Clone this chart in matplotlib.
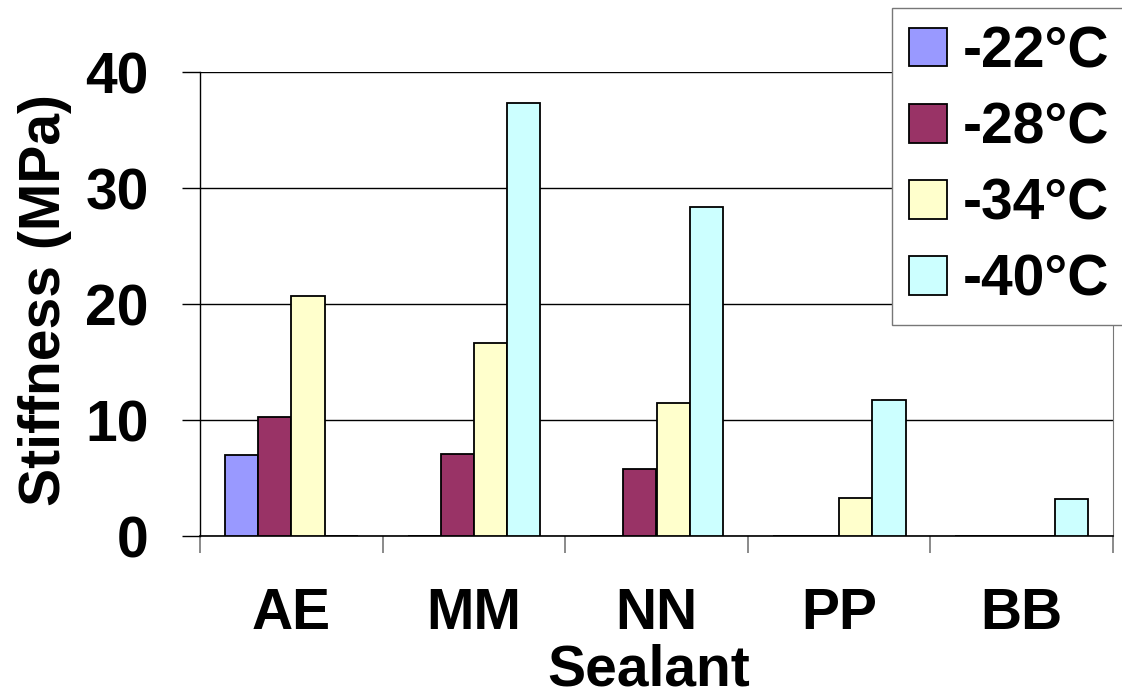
import numpy as np
import matplotlib
matplotlib.use('Agg')
import matplotlib.pyplot as plt

plt.rcParams['font.family'] = ['Liberation Sans', 'DejaVu Sans']
plt.rcParams['font.weight'] = 'bold'

sealants = ['AE', 'MM', 'NN', 'PP', 'BB']
temps = ['-22°C', '-28°C', '-34°C', '-40°C']
s22 = [7.0, 0, 0, 0, 0]
s28 = [10.3, 7.1, 5.8, 0, 0]
s34 = [20.7, 16.6, 11.5, 3.3, 0]
s40 = [0, 37.3, 28.4, 11.7, 3.2]
colors = ['#9999FF', '#993366', '#FFFFCC', '#CCFFFF']

FS = 41
W, H = 1122, 697
fig = plt.figure(figsize=(W / 100, H / 100), dpi=100)
ax = fig.add_axes([200 / W, (H - 536) / H, (1113 - 200) / W, (536 - 72) / H])

n = len(sealants)
w = 1 / 5.5
x = np.arange(n)
for j, (vals, c, lab) in enumerate(zip([s22, s28, s34, s40], colors, temps)):
    ax.bar(x + 0.75 * w + j * w + w / 2, vals, width=w, color=c,
           edgecolor='black', linewidth=1.3, label=lab, zorder=3)

ax.set_xlim(0, n)
ax.set_ylim(0, 40)
ax.set_yticks([0, 10, 20, 30, 40])
ax.yaxis.grid(True, color='black', linewidth=1.0, zorder=0)
ax.tick_params(axis='y', direction='out', length=13, width=1, pad=24, labelsize=FS)

ax.set_xticks(np.arange(n + 1))
ax.set_xticklabels([])
ax.tick_params(axis='x', which='major', direction='out', length=12, width=1.2, color='#777777')
ax.set_xticks(x + 0.5, minor=True)
ax.set_xticklabels(sealants, minor=True)
ax.tick_params(axis='x', which='minor', length=0, pad=37, labelsize=FS)

ax.spines['top'].set_visible(False)
ax.spines['right'].set_color('#777777')
ax.spines['left'].set_linewidth(1.0)
ax.spines['bottom'].set_linewidth(1.2)

fig.text(45 / W, 1 - 300 / H, 'Stiffness (MPa)', rotation=90, ha='center', va='center',
         fontsize=FS, fontweight='bold')
fig.text(649 / W, 1 - 685 / H, 'Sealant', ha='center', va='baseline',
         fontsize=FS, fontweight='bold')

leg = fig.legend(loc='upper left', bbox_to_anchor=(892 / W, 1 - 8 / H), borderaxespad=0,
                 fontsize=FS, handlelength=0.67, handleheight=0.67, handletextpad=0.28,
                 labelspacing=0.39, borderpad=0.3, fancybox=False, framealpha=1)
leg.get_frame().set_edgecolor('#777777')
leg.get_frame().set_linewidth(1.0)
for t in leg.get_texts():
    t.set_fontweight('bold')

fig.savefig('out.png', dpi=100)
